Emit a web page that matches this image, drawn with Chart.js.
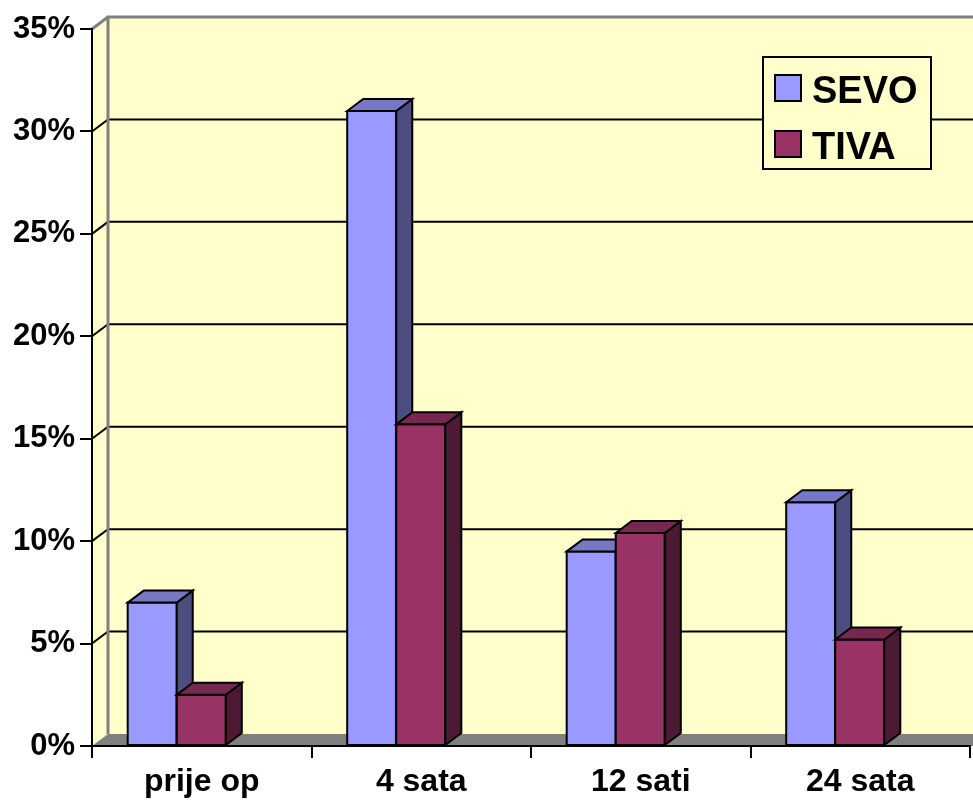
<!DOCTYPE html>
<html>
<head>
<meta charset="utf-8">
<script src="https://cdn.jsdelivr.net/npm/chart.js@4.4.1/dist/chart.umd.min.js"></script>
<style>
html,body{margin:0;padding:0;background:#ffffff;}
#wrap{width:973px;height:802px;position:relative;}
</style>
</head>
<body>
<div id="wrap"><canvas id="c"></canvas></div>
<script>
// ---- data ----
const categories = ['prije op', '4 sata', '12 sati', '24 sata'];
const sevoValues = [7.0, 31.0, 9.5, 11.9];
const tivaValues = [2.5, 15.7, 10.4, 5.2];
const seriesNames = ['SEVO', 'TIVA'];
const yMin = 0, yMax = 35, yStep = 5;

// ---- style ----
const DX = 16, DY = -12, SHIFT = -25;
const WALL = '#FFFFCC', FLOOR = '#808080', EDGE = '#808080';
const faces = [
  {front: '#9999FF', top: '#7777C4', side: '#4D4D80'},
  {front: '#993366', top: '#772850', side: '#4D1A33'}
];
const FONT = '"Liberation Sans", Arial, sans-serif';

const threeD = {
  id: 'threeD',
  beforeDraw(chart) {
    const {ctx, chartArea: ca, scales} = chart;
    const y = scales.y;
    const L = ca.left, R = ca.right, T = ca.top, B = ca.bottom;
    ctx.save();
    // back wall
    ctx.fillStyle = WALL;
    ctx.fillRect(L + DX, T + DY, (R - L) + 10, B - T);
    // side wall
    ctx.beginPath();
    ctx.moveTo(L, T); ctx.lineTo(L + DX, T + DY); ctx.lineTo(L + DX, B + DY); ctx.lineTo(L, B);
    ctx.closePath(); ctx.fill();
    // floor
    ctx.fillStyle = FLOOR;
    ctx.beginPath();
    ctx.moveTo(L, B); ctx.lineTo(L + DX, B + DY); ctx.lineTo(R + DX + 10, B + DY); ctx.lineTo(R + 10, B);
    ctx.closePath(); ctx.fill();
    // gridlines on back + side walls
    ctx.strokeStyle = '#000'; ctx.lineWidth = 2;
    for (let v = yMin + yStep; v < yMax; v += yStep) {
      const yf = y.getPixelForValue(v);
      const yb = yf + DY;
      ctx.beginPath();
      ctx.moveTo(L, yf); ctx.lineTo(L + DX, yb); ctx.lineTo(R + DX + 10, yb);
      ctx.stroke();
    }
    // gray wall edges
    ctx.strokeStyle = EDGE; ctx.lineWidth = 3;
    ctx.beginPath();
    ctx.moveTo(L + DX, B + DY); ctx.lineTo(L + DX, T + DY); ctx.lineTo(R + DX + 10, T + DY);
    ctx.moveTo(L, T); ctx.lineTo(L + DX, T + DY);
    ctx.stroke();
    ctx.restore();
  },
  beforeDatasetsDraw(chart) {
    chart.ctx.save();
    chart.ctx.translate(SHIFT, 0);
  },
  afterDatasetsDraw(chart) {
    const ctx = chart.ctx;
    ctx.lineWidth = 2; ctx.strokeStyle = '#000'; ctx.lineJoin = 'miter';
    chart.data.datasets.forEach((ds, di) => {
      const meta = chart.getDatasetMeta(di);
      const f = faces[di];
      meta.data.forEach(el => {
        const {x, y, base, width} = el.getProps(['x', 'y', 'base', 'width'], true);
        const x0 = x - width / 2, x1 = x + width / 2;
        // front
        ctx.fillStyle = f.front;
        ctx.beginPath(); ctx.rect(x0, y, width, base - y); ctx.fill(); ctx.stroke();
        // side
        ctx.fillStyle = f.side;
        ctx.beginPath();
        ctx.moveTo(x1, y); ctx.lineTo(x1 + DX, y + DY); ctx.lineTo(x1 + DX, base + DY); ctx.lineTo(x1, base);
        ctx.closePath(); ctx.fill(); ctx.stroke();
        // top
        ctx.fillStyle = f.top;
        ctx.beginPath();
        ctx.moveTo(x0, y); ctx.lineTo(x0 + DX, y + DY); ctx.lineTo(x1 + DX, y + DY); ctx.lineTo(x1, y);
        ctx.closePath(); ctx.fill(); ctx.stroke();
      });
    });
    ctx.restore();
  },
  afterDraw(chart) {
    const {ctx, chartArea: ca} = chart;
    const bw = 168, bh = 112;
    const bx = ca.right - 39 - bw, by = ca.top + 28;
    ctx.save();
    ctx.fillStyle = WALL; ctx.fillRect(bx, by, bw, bh);
    ctx.strokeStyle = '#000'; ctx.lineWidth = 2; ctx.strokeRect(bx, by, bw, bh);
    ctx.font = 'bold 38px ' + FONT;
    ctx.textBaseline = 'alphabetic'; ctx.textAlign = 'left';
    chart.data.datasets.forEach((ds, i) => {
      const sy = by + 18 + i * 56;
      ctx.fillStyle = faces[i].front;
      ctx.fillRect(bx + 12, sy, 26, 26);
      ctx.strokeRect(bx + 12, sy, 26, 26);
      ctx.fillStyle = '#000';
      ctx.fillText(ds.label, bx + 49, sy + 28);
    });
    ctx.restore();
  }
};

new Chart(document.getElementById('c'), {
  type: 'bar',
  data: {
    labels: categories,
    datasets: [
      {label: seriesNames[0], data: sevoValues, backgroundColor: faces[0].front, borderWidth: 0},
      {label: seriesNames[1], data: tivaValues, backgroundColor: faces[1].front, borderWidth: 0}
    ]
  },
  options: {
    responsive: true,
    maintainAspectRatio: false,
    animation: false,
    layout: {padding: {left: 0, right: 3, top: 29, bottom: 0}},
    datasets: {bar: {categoryPercentage: 0.447, barPercentage: 1.0}},
    plugins: {legend: {display: false}, tooltip: {enabled: false}},
    scales: {
      x: {
        grid: {offset: true, drawOnChartArea: false, drawTicks: true, tickLength: 12, color: '#000', lineWidth: 2},
        border: {display: true, color: '#000', width: 2},
        ticks: {color: '#000', padding: 5, font: {family: FONT, size: 32, weight: 'bold'}, maxRotation: 0},
        afterFit: s => { s.height = 56; }
      },
      y: {
        min: yMin, max: yMax,
        grid: {drawOnChartArea: false, drawTicks: true, tickLength: 12, color: '#000', lineWidth: 2},
        border: {display: true, color: '#000', width: 2},
        ticks: {stepSize: yStep, color: '#000', padding: 5, font: {family: FONT, size: 31, weight: 'bold'},
                callback: v => v + '%'},
        afterFit: s => { s.width = 92; }
      }
    }
  },
  plugins: [threeD]
});
</script>
</body>
</html>
